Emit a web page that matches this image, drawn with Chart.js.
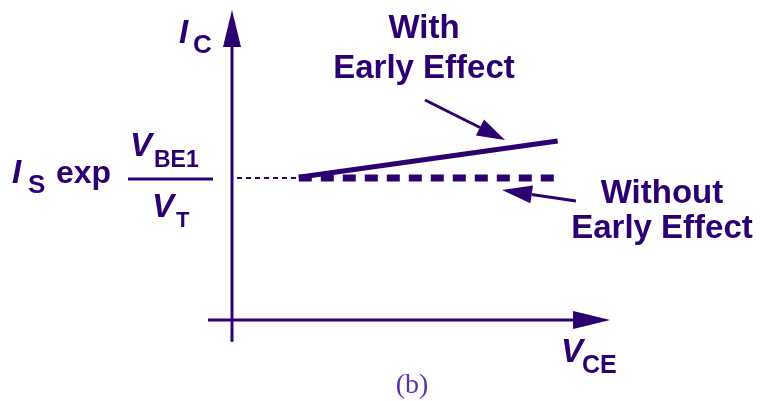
<!DOCTYPE html>
<html>
<head>
<meta charset="utf-8">
<title>Early effect</title>
<script src="https://cdn.jsdelivr.net/npm/chart.js@4.4.1/dist/chart.umd.min.js"></script>
<style>
  html, body { margin: 0; padding: 0; background: #fff; }
  #wrap { width: 763px; height: 401px; }
</style>
</head>
<body>
<div id="wrap"><canvas id="GraficoEarly" width="763" height="401"></canvas></div>
<script>
// I_C vs V_CE, arbitrary units
const vceGuide = [0.15, 2];
const icGuide = [5, 5];
const vceFlat = [2, 9.75];
const icFlat = [5, 5];
const vceEarly = [2, 9.75];
const icEarly = [5.03, 6.3];
// axis line extents (tip of the arrow is the last value)
const vceAxis = [-0.72, 11.32];
const icAxis = [-0.77, 10.92];

const COR = '#2c0070';

function pontos(xs, ys) {
    return xs.map(function (x, i) { return { x: x, y: ys[i] }; });
}

function seta(ctx, x1, y1, x2, y2, comp, meia, largura) {
    const ang = Math.atan2(y2 - y1, x2 - x1);
    const bx = x2 - comp * Math.cos(ang), by = y2 - comp * Math.sin(ang);
    if (largura) {
        ctx.lineWidth = largura;
        ctx.beginPath();
        ctx.moveTo(x1, y1);
        ctx.lineTo(bx, by);
        ctx.stroke();
    }
    ctx.beginPath();
    ctx.moveTo(x2, y2);
    ctx.lineTo(bx + meia * Math.sin(ang), by - meia * Math.cos(ang));
    ctx.lineTo(bx - meia * Math.sin(ang), by + meia * Math.cos(ang));
    ctx.closePath();
    ctx.fill();
}

// variable with subscript, e.g. I_C
function variavel(ctx, letra, sub, x, y, dx, dy, tamSub) {
    ctx.font = 'italic bold 33px "Liberation Sans", Arial, sans-serif';
    ctx.fillText(letra, x, y);
    ctx.font = 'bold ' + tamSub + 'px "Liberation Sans", Arial, sans-serif';
    ctx.fillText(sub, x + dx, y + dy);
}

const desenho = {
    id: 'desenho',
    afterDatasetsDraw: function (chart) {
        const ctx = chart.ctx;
        const sx = chart.scales.x, sy = chart.scales.y;
        ctx.save();
        ctx.fillStyle = COR;
        ctx.strokeStyle = COR;

        // axis arrowheads
        const ox = sx.getPixelForValue(0), oy = sy.getPixelForValue(0);
        seta(ctx, ox, oy, ox, sy.getPixelForValue(icAxis[1]), 37, 9, 0);
        seta(ctx, ox, oy, sx.getPixelForValue(vceAxis[1]), oy, 37, 9, 0);

        // pointer arrows
        seta(ctx, 425, 100, 505, 140, 28, 9, 3);
        seta(ctx, 576, 201, 502, 190, 30, 9, 3);

        ctx.textAlign = 'left';
        ctx.textBaseline = 'alphabetic';
        variavel(ctx, 'I', 'C', 179, 43, 14, 10, 26);
        variavel(ctx, 'V', 'CE', 561, 362, 21, 11, 25);

        // I_S exp(V_BE1 / V_T)
        const yf = sy.getPixelForValue(icFlat[0]);
        variavel(ctx, 'I', 'S', 12, yf + 5, 16, 10, 26);
        ctx.font = 'bold 32px "Liberation Sans", Arial, sans-serif';
        ctx.fillText('exp', 56, yf + 5);
        ctx.fillRect(128, yf - 0.5, 85, 3);
        variavel(ctx, 'V', 'BE1', 130, yf - 22, 24, 11, 23);
        variavel(ctx, 'V', 'T', 152, yf + 39, 24, 10, 22);

        ctx.textAlign = 'center';
        ctx.font = 'bold 33px "Liberation Sans", Arial, sans-serif';
        ctx.fillText('With', 424, 38);
        ctx.fillText('Early Effect', 424, 78);
        ctx.fillText('Without', 662, 203);
        ctx.fillText('Early Effect', 662, 238);

        ctx.fillStyle = '#5a30b0';
        ctx.font = '28px "Liberation Serif", "Times New Roman", serif';
        ctx.fillText('(b)', 412, 393);
        ctx.restore();
    }
};

function linha(xs, ys, largura, traco) {
    return {
        data: pontos(xs, ys),
        showLine: true,
        borderColor: COR,
        borderWidth: largura,
        borderDash: traco || [],
        borderCapStyle: 'butt',
        pointRadius: 0,
        fill: false
    };
}

new Chart(document.getElementById('GraficoEarly'), {
    type: 'scatter',
    data: {
        datasets: [
            linha([vceAxis[0], vceAxis[1] - 1.0], [0, 0], 3),
            linha([0, 0], [icAxis[0], icAxis[1] - 1.2], 3),
            linha(vceGuide, icGuide, 2, [5, 4]),
            linha(vceFlat, icFlat, 7, [13, 9]),
            linha(vceEarly, icEarly, 5)
        ]
    },
    options: {
        responsive: false,
        animation: false,
        layout: { padding: 0 },
        plugins: {
            legend: { display: false },
            tooltip: { enabled: false }
        },
        scales: {
            x: { type: 'linear', display: false, min: -6.946, max: 15.898 },
            y: { type: 'linear', display: false, min: -2.852, max: 11.268 }
        }
    },
    plugins: [desenho]
});
</script>
</body>
</html>
